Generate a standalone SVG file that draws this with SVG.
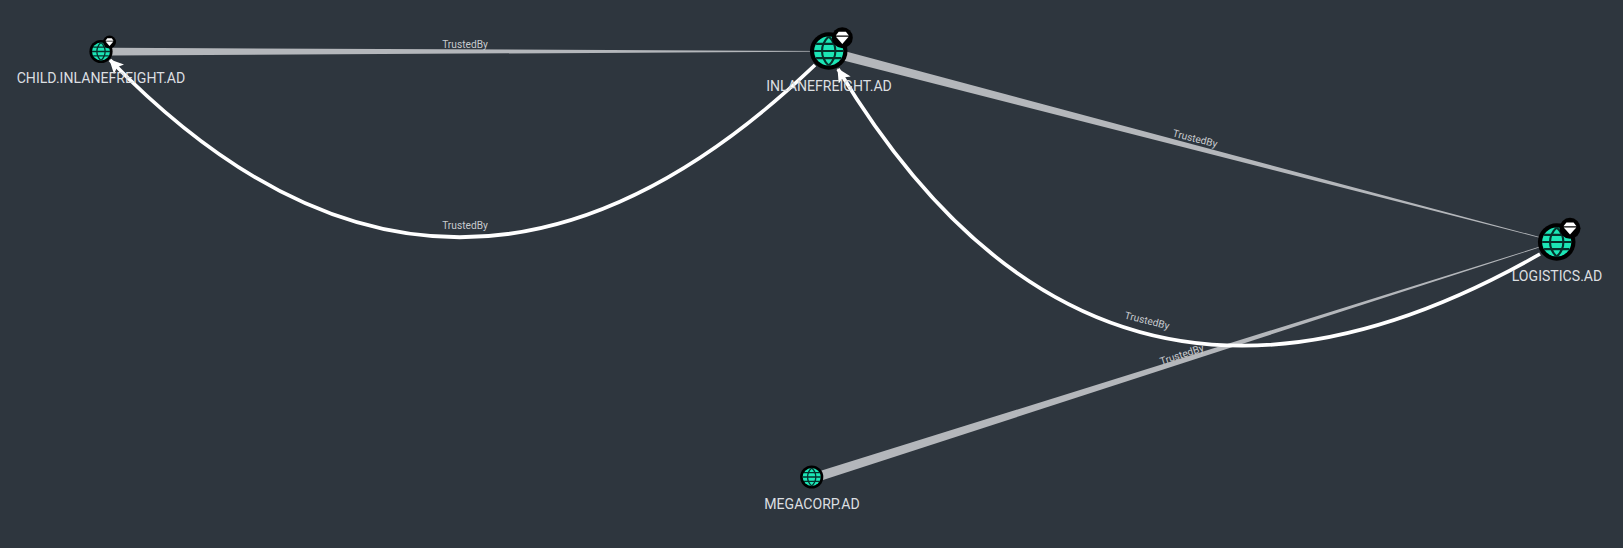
<svg xmlns="http://www.w3.org/2000/svg" width="1623" height="548" viewBox="0 0 1623 548">
<style>
.nl{font-family:Roboto,"Liberation Sans",sans-serif;font-size:14.1px;fill:#dcdfe1;text-anchor:middle}
.el{font-family:Roboto,"Liberation Sans",sans-serif;font-size:10.2px;fill:#c8cbce;text-anchor:middle}
.taper{fill:#b4b7bb}
.curve{fill:none;stroke:#fff;stroke-width:3.6;marker-end:url(#ah)}
.ring{fill:#000}
.globe{fill:#1ce6b6}
.gl{fill:none;stroke:#06302b}
.dia{fill:#fff}
</style>
<defs>
<marker id="ah" markerUnits="userSpaceOnUse" markerWidth="16" markerHeight="14" refX="13" refY="7" orient="auto"><path d="M0 0L14 7L0 14L3 7Z" fill="#fff"/></marker>
<g id="g"><circle class="ring" r="1.16"/><circle class="globe" r="0.9"/><path class="gl" stroke-width="0.13" d="M-.9 0H.9M-.78-.44H.78M-.78.44H.78M0-.9C-.55-.4-.55.4 0 .9M0-.9C.55-.4.55.4 0 .9"/></g>
<g id="b"><circle class="ring" r="1"/><path class="dia" d="M-.62-.2L-.34-.56H.34L.62-.2Z"/><path class="dia" d="M-.6-.08H.6L0 .6Z"/></g>
</defs>
<rect width="1623" height="548" fill="#2e363e"/>
<g id="connectors">
<polygon class="taper" points="111,47.8 111,55.6 828,51.6 828,51"/>
<polygon class="taper" points="846,51.5 843.5,60.5 1556,242 1556,241.4"/>
<polygon class="taper" points="820,471 823,480 1556,242 1556,241.6"/>
<path class="curve" d="M815 65Q452 412 110 60"/>
<path class="curve" d="M1540 254Q1100 505 838 69"/>
<text class="el" x="465" y="48">TrustedBy</text>
<text class="el" x="465" y="229">TrustedBy</text>
<text class="el" x="1195" y="142" transform="rotate(14.3 1195 139)">TrustedBy</text>
<text class="el" x="1147" y="324" transform="rotate(14 1147 321)">TrustedBy</text>
<text class="el" x="1182" y="358" transform="rotate(-18 1182 355)">TrustedBy</text>
</g>
<g id="child"><use href="#g" transform="translate(101 51.5) scale(10)"/><use href="#b" transform="translate(109.5 42) scale(6.5)"/><text class="nl" x="101" y="82.7">CHILD.INLANEFREIGHT.AD</text></g>
<g id="inlanefreight"><use href="#g" transform="translate(828.7 51) scale(16.2)"/><use href="#b" transform="translate(842.3 37.7) scale(10.5)"/><text class="nl" x="829" y="90.7">INLANEFREIGHT.AD</text></g>
<g id="logistics"><use href="#g" transform="translate(1556.7 242) scale(16.2)"/><use href="#b" transform="translate(1570 228.3) scale(10.5)"/><text class="nl" x="1557" y="280.7">LOGISTICS.AD</text></g>
<g id="megacorp"><use href="#g" transform="translate(811.7 477) scale(10)"/><text class="nl" x="812" y="508.7">MEGACORP.AD</text></g>
</svg>
